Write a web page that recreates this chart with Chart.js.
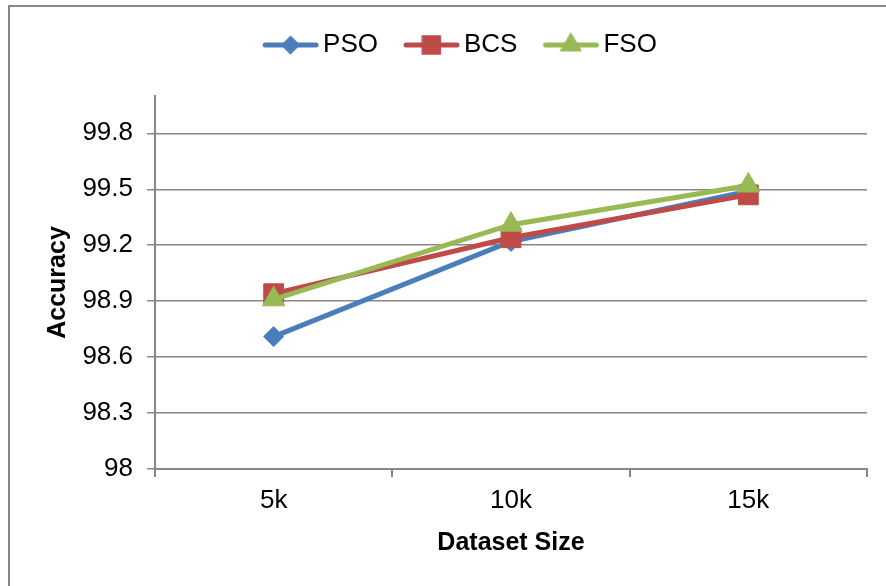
<!DOCTYPE html>
<html>
<head>
<meta charset="utf-8">
<title>Accuracy vs Dataset Size</title>
<script src="https://cdn.jsdelivr.net/npm/chart.js@4.4.1/dist/chart.umd.min.js"></script>
<style>
  html, body { margin: 0; padding: 0; background: #fff; overflow: hidden; }
  #wrap { position: relative; width: 886px; height: 586px; }
  #chart-accuracy { position: absolute; left: 0; top: 0; }
  /* outer frame of the original figure, cut off at right / bottom */
  #frame { position: absolute; left: 8px; top: 5px; width: 900px; height: 600px;
           border-left: 2px solid #878787; border-top: 2px solid #878787; pointer-events: none; }
</style>
</head>
<body>
<div id="wrap">
  <canvas id="chart-accuracy" width="886" height="586"></canvas>
  <div id="frame"></div>
</div>
<script>
//------------------------------------------- DATA -------------------------------------------
const categories = ['5k', '10k', '15k'];
const pso = [98.71, 99.22, 99.49];
const bcs = [98.94, 99.24, 99.47];
const fso = [98.91, 99.31, 99.52];
const yTicks = [98, 98.3, 98.6, 98.9, 99.2, 99.5, 99.8];
const yMin = 98;
const yMax = 100;

//------------------------------------------- STYLE -------------------------------------------
const FONT = "'Liberation Sans', Arial, sans-serif";
const GRID = '#878787';
const colPSO = '#4A7EBB';
const colBCS = '#BE4B48';
const colFSO = '#98B954';

// legend icon: line with the marker in the middle (like Excel)
function legendIcon(color, style, radius) {
    const c = document.createElement('canvas');
    c.width = 61;
    c.height = 28;
    const ctx = c.getContext('2d');
    ctx.strokeStyle = color;
    ctx.lineWidth = 5;
    ctx.lineCap = 'round';
    ctx.beginPath();
    ctx.moveTo(7, 14);
    ctx.lineTo(58, 14);
    ctx.stroke();
    ctx.fillStyle = color;
    ctx.lineWidth = 1;
    Chart.helpers.drawPoint(ctx, { pointStyle: style, radius: radius, borderWidth: 1 }, 32.5, 14);
    return c;
}

const icons = [
    legendIcon(colPSO, 'rectRot', 9),
    legendIcon(colBCS, 'rect', 13),
    legendIcon(colFSO, 'triangle', 12)
];

// extra room under the legend
const legendMargin = {
    id: 'legendMargin',
    beforeInit(chart) {
        const fitValue = chart.legend.fit;
        chart.legend.fit = function fit() {
            fitValue.bind(chart.legend)();
            this.height += 28;
        };
    }
};

var ctx_acc = document.getElementById('chart-accuracy').getContext('2d');
var chart_acc = new Chart(ctx_acc, {
    type: 'line',
    data: {
        labels: categories,
        datasets: [{
            label: 'PSO',
            data: pso,
            borderColor: colPSO,
            backgroundColor: colPSO,
            borderWidth: 5,
            pointStyle: 'rectRot',
            pointRadius: 10,
            pointHoverRadius: 10,
            pointBorderWidth: 1,
            order: 3
        }, {
            label: 'BCS',
            data: bcs,
            borderColor: colBCS,
            backgroundColor: colBCS,
            borderWidth: 5,
            pointStyle: 'rect',
            pointRadius: 14,
            pointHoverRadius: 14,
            pointBorderWidth: 1,
            order: 2
        }, {
            label: 'FSO',
            data: fso,
            borderColor: colFSO,
            backgroundColor: colFSO,
            borderWidth: 5,
            pointStyle: 'triangle',
            pointRadius: 13,
            pointHoverRadius: 13,
            pointBorderWidth: 1,
            order: 1
        }]
    },
    options: {
        responsive: false,
        animation: false,
        devicePixelRatio: 1,
        layout: {
            padding: { top: 2, right: 19, bottom: 0, left: 57 }
        },
        plugins: {
            tooltip: { enabled: false },
            legend: {
                position: 'top',
                labels: {
                    usePointStyle: true,
                    pointStyleWidth: 43,
                    padding: 30,
                    color: '#000',
                    font: { family: FONT, size: 26 },
                    generateLabels(chart) {
                        const items = Chart.defaults.plugins.legend.labels.generateLabels(chart);
                        items.sort((a, b) => a.datasetIndex - b.datasetIndex);
                        items.forEach(it => { it.pointStyle = icons[it.datasetIndex]; });
                        return items;
                    }
                }
            }
        },
        scales: {
            x: {
                type: 'category',
                offset: true,
                grid: {
                    display: true,
                    offset: true,
                    drawOnChartArea: false,
                    drawTicks: true,
                    tickLength: 8,
                    color: GRID,
                    lineWidth: 2
                },
                border: { display: true, color: GRID, width: 2 },
                ticks: {
                    color: '#000',
                    padding: 8,
                    font: { family: FONT, size: 26 }
                },
                title: {
                    display: true,
                    text: 'Dataset Size',
                    color: '#000',
                    font: { family: FONT, size: 25, weight: 'bold' },
                    padding: { top: 0, bottom: 28 }
                },
                afterFit(scale) {
                    scale.height = 117;
                }
            },
            y: {
                min: yMin,
                max: yMax,
                afterBuildTicks(scale) {
                    scale.ticks = yTicks.map(v => ({ value: v }));
                },
                grid: {
                    color: GRID,
                    lineWidth: 1.5,
                    tickLength: 8
                },
                border: { display: true, color: GRID, width: 2 },
                ticks: {
                    color: '#000',
                    padding: 14,
                    font: { family: FONT, size: 26 },
                    callback: v => String(v)
                },
                title: {
                    display: true,
                    text: 'Accuracy',
                    color: '#000',
                    font: { family: FONT, size: 25, weight: 'bold' },
                    padding: { top: -14, bottom: 0 }
                },
                afterFit(scale) {
                    scale.width = 98;
                }
            }
        }
    },
    plugins: [legendMargin]
});
</script>
</body>
</html>
